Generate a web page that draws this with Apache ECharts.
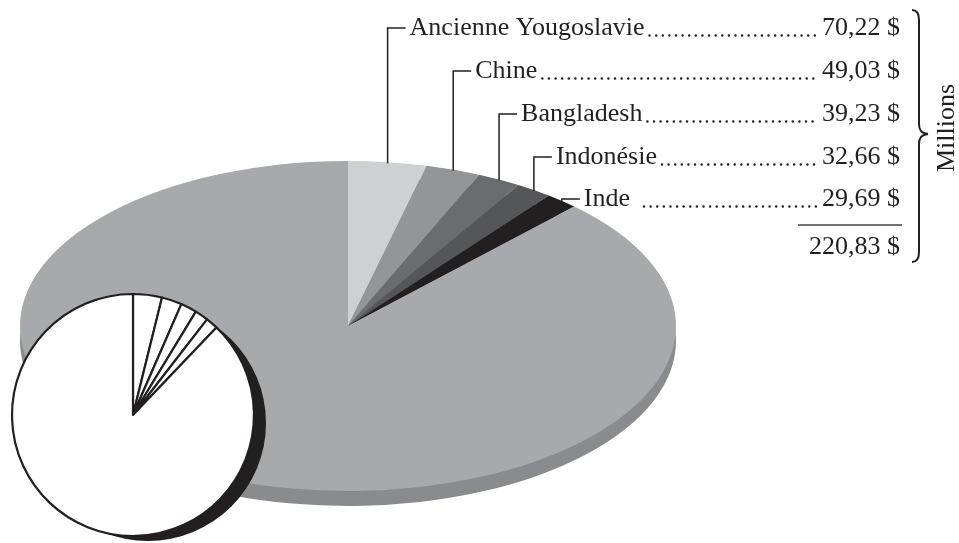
<!DOCTYPE html>
<html>
<head>
<meta charset="utf-8">
<script src="https://cdn.jsdelivr.net/npm/echarts@6/dist/echarts.min.js"></script>
<style>
  html, body { margin: 0; padding: 0; background: #fff; }
  #chart { width: 959px; height: 543px; }
</style>
</head>
<body>
<div id="chart"></div>
<script>
// données (millions $)
var pays = ['Ancienne Yougoslavie', 'Chine', 'Bangladesh', 'Indonésie', 'Inde'];
var montants = [70.22, 49.03, 39.23, 32.66, 29.69];
var autres = 1602; // reste du total, non étiqueté
var unite = 'Millions';

// styles
var couleurs = ['#cfd0d2', '#939598', '#6b6c6f', '#555658', '#231f20', '#a7a9ac'];
var couleurCote = '#8a8b8e';
var noir = '#231f20';
var police = '"Liberation Serif", "Times New Roman", serif';
var taille = 26;

// mise en page
var cx = 348, cy = 326, rx = 328, ry = 165, epaisseur = 15;
var ligneY = [28, 71, 114, 157, 199];
var totalY = 247;
var droite = 900;

var valeurs = montants.concat([autres]);
var somme = valeurs.reduce(function (a, b) { return a + b; }, 0);
var cumul = [0];
valeurs.forEach(function (v, i) { cumul.push(cumul[i] + v); });
function angle(u) { return -Math.PI / 2 + u / somme * Math.PI * 2; }
function fmt(v) { return v.toFixed(2).replace('.', ',') + ' $'; }

var ctx = document.createElement('canvas').getContext('2d');
ctx.font = taille + 'px ' + police;
function largeur(t) { return ctx.measureText(t).width; }

function secteur(dy, couleur) {
  return function (params, api) {
    var i = params.dataIndex;
    return {
      type: 'sector',
      shape: { cx: cx, cy: cy + dy, r: rx, r0: 0, startAngle: angle(cumul[i]), endAngle: angle(cumul[i + 1]), clockwise: true },
      originX: cx, originY: cy + dy,
      scaleY: ry / rx,
      style: { fill: couleur || couleurs[i] }
    };
  };
}

var graphics = [];
var txt = { fill: noir, font: taille + 'px ' + police, verticalAlign: 'middle' };

pays.forEach(function (nom, i) {
  var t = (angle(cumul[i]) + angle(cumul[i + 1])) / 2 + Math.PI / 2;
  var x = cx + rx * Math.sin(t), y0 = cy - ry * Math.cos(t) + 1;
  var y = ligneY[i];
  graphics.push({ type: 'polyline', z: 10, shape: { points: [[x, y0], [x, y], [x + 18, y]] }, style: { stroke: noir, lineWidth: 1.5, fill: null } });
  var xNom = x + 22;
  graphics.push({ type: 'text', z: 10, x: xNom, y: y, style: Object.assign({ text: nom, align: 'left' }, txt) });
  var v = fmt(montants[i]);
  graphics.push({ type: 'text', z: 10, x: droite, y: y, style: Object.assign({ text: v, align: 'right' }, txt) });
  var d0 = xNom + largeur(nom) + (nom === 'Inde' ? 14 : 5);
  var d1 = droite - largeur(v) - 3;
  graphics.push({ type: 'line', z: 10, shape: { x1: d0, y1: y + 7.5, x2: d1, y2: y + 7.5 }, style: { stroke: noir, lineWidth: 2.5, lineCap: 'round', lineDash: [0.01, 6.6] } });
});

var sommeMontants = montants.reduce(function (a, b) { return a + b; }, 0);
graphics.push({ type: 'line', z: 10, shape: { x1: 798, y1: 225, x2: 902, y2: 225 }, style: { stroke: '#444', lineWidth: 1.5 } });
graphics.push({ type: 'text', z: 10, x: droite, y: totalY, style: Object.assign({ text: fmt(sommeMontants), align: 'right' }, txt) });

// accolade
var trait = { stroke: noir, lineWidth: 2, fill: null };
[
  [912, 10, 917, 10, 919, 13, 919, 20],
  [919, 124, 919, 130, 921, 133, 928, 134],
  [928, 134, 921, 135, 919, 138, 919, 144],
  [919, 252, 919, 259, 917, 262, 912, 262]
].forEach(function (b) {
  graphics.push({ type: 'bezierCurve', z: 10, shape: { x1: b[0], y1: b[1], cpx1: b[2], cpy1: b[3], cpx2: b[4], cpy2: b[5], x2: b[6], y2: b[7] }, style: trait });
});
graphics.push({ type: 'line', z: 10, shape: { x1: 919, y1: 20, x2: 919, y2: 124 }, style: trait });
graphics.push({ type: 'line', z: 10, shape: { x1: 919, y1: 144, x2: 919, y2: 252 }, style: trait });
graphics.push({ type: 'text', z: 10, x: 947, y: 128, rotation: Math.PI / 2, style: Object.assign({ text: unite, align: 'center' }, txt) });

// ombre du petit disque
graphics.push({ type: 'circle', z: 2, shape: { cx: 148, cy: 423, r: 118 }, style: { fill: noir } });

var chart = echarts.init(document.getElementById('chart'));
chart.setOption({
  animation: false,
  series: [
    { type: 'custom', coordinateSystem: 'none', z: 1, silent: true, data: valeurs, renderItem: secteur(epaisseur, couleurCote) },
    { type: 'custom', coordinateSystem: 'none', z: 1, silent: true, data: valeurs, renderItem: secteur(0) },
    {
      type: 'pie', z: 3, silent: true, center: [133, 415], radius: 121, startAngle: 90, clockwise: true,
      label: { show: false }, labelLine: { show: false },
      itemStyle: { color: '#fff', borderColor: noir, borderWidth: 2.2 },
      data: valeurs.map(function (v, i) { return { value: v, name: i < pays.length ? pays[i] : 'Autres' }; })
    }
  ],
  graphic: graphics
});
</script>
</body>
</html>
